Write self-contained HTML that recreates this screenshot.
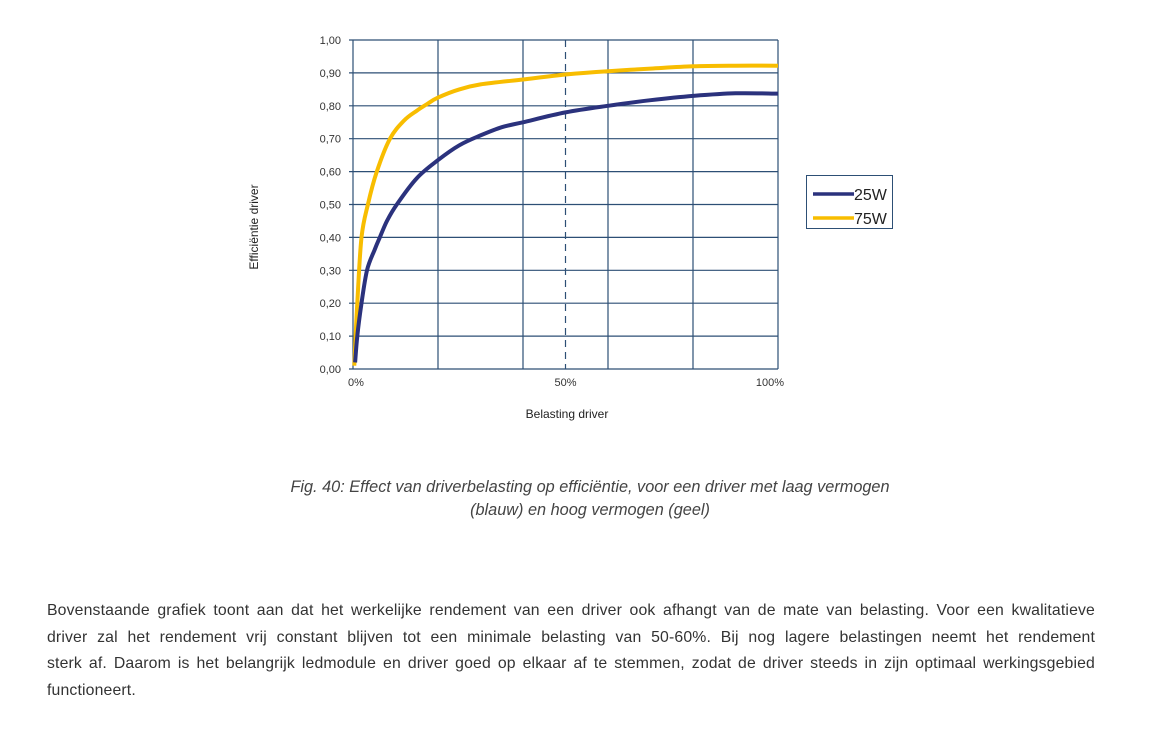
<!DOCTYPE html>
<html><head><meta charset="utf-8"><style>
body{margin:0;background:#fff;width:1153px;height:751px;overflow:hidden;font-family:"Liberation Sans",sans-serif}
.cap{position:absolute;left:190px;width:800px;text-align:center;font-style:italic;font-size:16.3px;color:#444;line-height:23px;top:476px}
.body{position:absolute;left:47px;width:1048px;top:598px;font-size:15.8px;letter-spacing:0.15px;line-height:26.5px;color:#333}
.ln{text-align:justify;text-align-last:justify;white-space:nowrap;height:26.5px}
.ln.last{text-align-last:left}
</style></head><body>
<svg width="1153" height="470" style="position:absolute;left:0;top:0" id="chart"></svg>
<div class="cap">Fig. 40: Effect van driverbelasting op efficiëntie, voor een driver met laag vermogen<br>(blauw) en hoog vermogen (geel)</div>
<div class="body">
<div class="ln">Bovenstaande grafiek toont aan dat het werkelijke rendement van een driver ook afhangt van de mate van belasting. Voor een kwalitatieve</div>
<div class="ln">driver zal het rendement vrij constant blijven tot een minimale belasting van 50-60%. Bij nog lagere belastingen neemt het rendement</div>
<div class="ln">sterk af. Daarom is het belangrijk ledmodule en driver goed op elkaar af te stemmen, zodat de driver steeds in zijn optimaal werkingsgebied</div>
<div class="ln last">functioneert.</div>
</div>
<script>
const yTicks=[0,0.1,0.2,0.3,0.4,0.5,0.6,0.7,0.8,0.9,1.0];
const xGrid=[0,20,40,60,80,100];
const xLabels=[0,50,100];
const x25=[0.5,1,2,3.3,5,6.3,8,10.3,15,20,25,30,35,40,50,60,70,80,90,100];
const y25=[0.02,0.1,0.2,0.3,0.36,0.4,0.45,0.5,0.58,0.635,0.68,0.71,0.735,0.75,0.78,0.80,0.817,0.83,0.838,0.837];
const x75=[0.3,1,2,3.5,5.6,8.7,12,15,17.4,20,25,30,40,50,60,70,80,90,100];
const y75=[0.01,0.2,0.4,0.5,0.6,0.7,0.755,0.785,0.805,0.825,0.85,0.865,0.88,0.895,0.905,0.913,0.92,0.922,0.922];
const L=353,R=778,T=40,B=369;
const sx=v=>L+(R-L)*v/100, sy=v=>B-(B-T)*v;
const svg=document.getElementById('chart');
const NS='http://www.w3.org/2000/svg';
function mk(t,a,p){const e=document.createElementNS(NS,t);for(const k in a)e.setAttribute(k,a[k]);(p||svg).appendChild(e);return e;}
yTicks.forEach(v=>{
 const l=mk('line',{x1:L-4,x2:R,y1:sy(v),y2:sy(v),stroke:'#2d4f75','stroke-width':1.2});
 
 
 const t=mk('text',{x:L-12,y:sy(v)+4,'text-anchor':'end','font-size':11,fill:'#333'});
 t.textContent=v.toFixed(2).replace('.',',');
 
 
});
xGrid.forEach(v=>{
 const l=mk('line',{x1:sx(v),x2:sx(v),y1:T,y2:B,stroke:'#2d4f75','stroke-width':1.2});
 
 
});
const d=mk('line',{x1:sx(50),x2:sx(50),y1:T,y2:B,stroke:'#2d4f75','stroke-width':1.2,'stroke-dasharray':'7,5'});


xLabels.forEach(v=>{
 const t=mk('text',{x:sx(v)+(v==100?-8:v==0?3:0),y:B+17,'text-anchor':'middle','font-size':11,fill:'#333'});
 t.textContent=v+'%';
 
 
});
function path(xs,ys){
 const P=xs.map((x,i)=>[sx(x),sy(ys[i])]);
 let s='M'+P[0][0].toFixed(1)+','+P[0][1].toFixed(1);
 for(let i=0;i<P.length-1;i++){
  const p0=P[Math.max(0,i-1)],p1=P[i],p2=P[i+1],p3=P[Math.min(P.length-1,i+2)];
  const c1=[p1[0]+(p2[0]-p0[0])/6,p1[1]+(p2[1]-p0[1])/6];
  const c2=[p2[0]-(p3[0]-p1[0])/6,p2[1]-(p3[1]-p1[1])/6];
  s+='C'+c1.map(v=>v.toFixed(1)).join(',')+' '+c2.map(v=>v.toFixed(1)).join(',')+' '+p2.map(v=>v.toFixed(1)).join(',');
 }
 return s;
}
const p75=mk('path',{d:path(x75,y75),fill:'none',stroke:'#f8bd00','stroke-width':4,'stroke-linejoin':'round'});


const p25=mk('path',{d:path(x25,y25),fill:'none',stroke:'#2b327d','stroke-width':4,'stroke-linejoin':'round'});


const yt=mk('text',{x:0,y:0,transform:'translate(258,227) rotate(-90)','text-anchor':'middle','font-size':12,fill:'#222'});
yt.textContent='Efficiëntie driver';


const xt=mk('text',{x:567,y:418,'text-anchor':'middle','font-size':12,fill:'#222'});
xt.textContent='Belasting driver';


const lg=mk('g',{});


mk('rect',{x:806.5,y:175.5,width:86,height:53,fill:'#fff',stroke:'#2d4f75','stroke-width':1},lg);
[['25W','#2b327d',194],['75W','#f8bd00',218]].forEach(([n,c,y])=>{
 const g=mk('g',{},lg);
 
 
 mk('line',{x1:813,x2:854,y1:y,y2:y,stroke:c,'stroke-width':3.5},g);
 const t=mk('text',{x:854,y:y+6,'font-size':16,fill:'#222'},g);t.textContent=n;
});
</script>
</body></html>
